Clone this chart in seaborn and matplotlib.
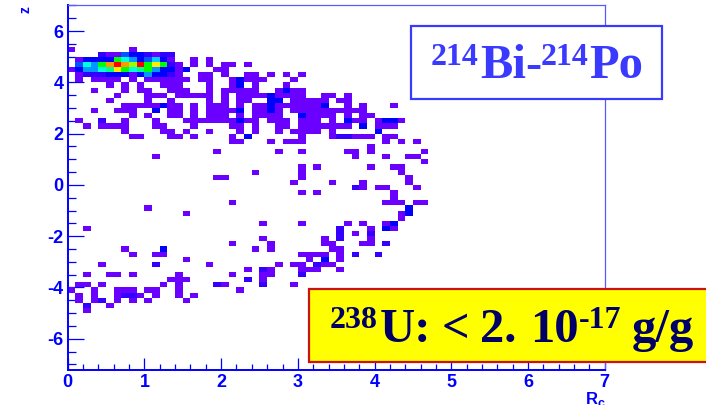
import matplotlib
matplotlib.use("Agg")
import matplotlib.pyplot as plt
from matplotlib.colors import ListedColormap
from matplotlib.patches import Rectangle
from matplotlib.ticker import MultipleLocator
import numpy as np
import pandas as pd
import seaborn as sns

# Occupied R bins (0.1 wide) for each z row (0.2 wide), top row first
first_row_top = 5.4
row_columns = [
    [0, 8],
    [4, 5, 6, 7, 8, 9, 10, 11, 12, 13],
    [1, 2, 3, 4, 5, 6, 7, 8, 9, 10, 11, 12, 13, 16, 18],
    [1, 2, 3, 4, 5, 6, 7, 8, 9, 10, 11, 12, 13, 14, 16, 18, 20, 21, 23],
    [0, 1, 2, 3, 4, 5, 6, 7, 8, 9, 10, 11, 12, 13, 14, 15, 19, 20],
    [1, 2, 3, 4, 5, 6, 7, 8, 9, 10, 11, 12, 13, 14, 17, 18, 20, 23, 24, 26, 28, 30],
    [1, 3, 4, 5, 6, 8, 10, 11, 12, 13, 14, 15, 17, 18, 21, 22, 23, 24, 25, 29],
    [5, 7, 9, 12, 13, 14, 18, 21, 22, 24, 28],
    [3, 7, 9, 10, 13, 14, 15, 18, 20, 21, 22, 23, 24, 27, 28, 29, 30],
    [6, 10, 11, 12, 14, 15, 16, 17, 18, 20, 22, 23, 24, 25, 26, 27, 28, 29, 30, 33, 34, 36],
    [5, 10, 13, 18, 20, 22, 23, 26, 27, 29, 30, 31, 32, 33, 35, 36],
    [7, 8, 9, 10, 11, 12, 13, 14, 16, 18, 19, 20, 22, 24, 25, 26, 27, 28, 29, 30, 31, 32, 33, 36, 38, 42],
    [3, 6, 7, 8, 11, 13, 14, 16, 18, 19, 20, 21, 22, 24, 25, 26, 27, 29, 30, 31, 32, 33, 34, 35, 36, 37, 38],
    [8, 10, 13, 14, 16, 18, 19, 20, 22, 24, 25, 26, 27, 30, 31, 32, 33, 34, 36, 38, 39],
    [1, 4, 7, 11, 15, 16, 17, 18, 19, 20, 21, 22, 23, 24, 26, 27, 28, 30, 31, 32, 34, 36, 37, 38, 40, 41, 42, 43],
    [2, 4, 5, 6, 7, 11, 12, 16, 21, 22, 24, 27, 28, 30, 31, 32, 33, 34, 35, 36, 38, 40, 41, 42],
    [7, 12, 13, 15, 18, 22, 24, 27, 29, 30, 31, 32, 34, 40],
    [8, 9, 13, 14, 16, 21, 23, 30, 34, 35, 36, 37, 38, 39, 41, 42],
    [21, 22, 26, 28, 29, 30, 41, 43, 45],
    [39],
    [19, 27, 30, 36, 37, 39, 46],
    [11, 37, 41, 44, 45],
    [46],
    [30, 32, 39, 42, 43],
    [24, 30, 43],
    [19, 20, 30, 44],
    [29, 34, 38, 44],
    [37, 38, 40, 41, 45],
    [30, 32, 42],
    [42],
    [21, 41, 42, 43, 45, 46],
    [10, 44],
    [15, 43, 44],
    [43],
    [25, 30, 36, 38, 41, 42],
    [2, 35, 39, 41, 42],
    [35, 37, 39],
    [25, 33, 35, 39],
    [21, 26, 33, 34, 38, 39, 41],
    [7, 12, 24, 26, 34, 35],
    [8, 11, 12, 30, 31, 32, 33, 35, 37, 40],
    [15, 31, 33, 35],
    [4, 11, 18, 27, 29, 30, 32, 33, 34],
    [23, 25, 26, 30, 31, 32, 35],
    [2, 5, 6, 8, 14, 21, 25, 26, 30],
    [13, 14, 15, 23, 25],
    [1, 2, 4, 12, 14, 19, 20, 29],
    [0, 3, 6, 7, 8, 10, 11, 14, 22],
    [1, 3, 6, 7, 8, 9, 11, 14, 16],
    [1, 3, 4, 6, 8, 10, 15],
    [2, 5],
    [2],
]

# Hot core counts, one list per row, R bins given by the core_*_start values
core_a_row, core_a_start = 1, 4
core_a = [2, 1, 1, 4, 3, 3, 2, 1, 2, 2]
core_b_row, core_b_start = 2, 1
core_b = [1, 3, 3, 3, 3, 9, 7, 5, 3, 4, 6, 3, 1]
core_c_row, core_c_start = 3, 1
core_c = [4, 7, 5, 9, 12, 13, 12, 10, 13, 9, 11, 9, 2, 1]
core_d_row, core_d_start = 4, 1
core_d = [3, 5, 5, 7, 8, 11, 9, 7, 8, 9, 5, 3, 3, 1, 3]
core_e_row, core_e_start = 5, 1
core_e = [1, 2, 2, 2, 3, 3, 3, 1, 3, 5, 3, 3, 2, 1]

# Scattered bluer cells: row index, R bin, count
blue_row = [6, 7, 8, 9, 10, 10, 11, 11, 11, 12, 12, 12, 13, 14, 14, 14, 14, 14, 15, 16, 17, 17, 17, 27, 31, 32,
            34, 35, 35, 36, 36, 37, 38, 39, 40, 40, 41, 42, 42, 43, 44, 45, 46, 46, 48, 48, 49, 50]
blue_col = [22, 22, 28, 26, 26, 27, 26, 33, 12, 22, 26, 11, 30, 22, 36, 41, 42, 4, 38, 40, 23, 35, 36, 37, 44, 44,
            42, 35, 41, 35, 39, 35, 41, 12, 37, 40, 33, 11, 32, 25, 30, 23, 19, 25, 7, 8, 4, 2]
blue_count = [3, 3, 3, 3, 3, 3, 3, 3, 3, 3, 3, 3, 3, 3, 3, 3, 3, 2, 3, 3, 3, 2, 2, 2, 3, 3,
              3, 2, 3, 2, 2, 2, 2, 3, 2, 2, 3, 2, 2, 2, 2, 2, 2, 2, 2, 2, 2, 2]

tick_labels_z = [-6, -4, -2, 0, 2, 4, 6]
tick_labels_r = [0, 1, 2, 3, 4, 5, 6, 7]

AXIS_BLUE = "#0000ff"
FRAME_BLUE = "#5a5aff"
TITLE_BLUE = "#3a3aff"
NAVY = "#000066"

# ROOT style rainbow palette, one colour per count
palette = ListedColormap([
    "#6a00ff", "#3300ff", "#0000ff", "#0055ff", "#0099ff", "#00ccff", "#00ffdd",
    "#00ff88", "#00ff00", "#99ff00", "#ffee00", "#ff9900", "#ff0000",
])

# Build the weighted table of filled cells
counts = {}
for i, cols in enumerate(row_columns):
    for c in cols:
        counts[(i, c)] = 1
for row, start, values in [
    (core_a_row, core_a_start, core_a),
    (core_b_row, core_b_start, core_b),
    (core_c_row, core_c_start, core_c),
    (core_d_row, core_d_start, core_d),
    (core_e_row, core_e_start, core_e),
]:
    for k, w in enumerate(values):
        counts[(row, start + k)] = w
for i, c, w in zip(blue_row, blue_col, blue_count):
    counts[(i, c)] = w

df = pd.DataFrame(
    [
        {"r": (c + 0.5) * 0.1, "z": first_row_top - (i + 0.5) * 0.2, "w": w}
        for (i, c), w in counts.items()
    ]
)

sns.set_style("white")
plt.rcParams["font.family"] = ["Liberation Sans", "DejaVu Sans"]
plt.rcParams["axes.unicode_minus"] = False

W, H = 706, 405
fig = plt.figure(figsize=(W / 100, H / 100), dpi=100)
ax = fig.add_axes([67.7 / W, 1 - 369.5 / H, (604.7 - 67.7) / W, (369.5 - 5.5) / H])

r_edges = np.linspace(0, 7, 71)
z_edges = np.linspace(-7.2, 7.0, 72)
sns.histplot(
    data=df, x="r", y="z", weights="w", bins=(r_edges, z_edges), ax=ax,
    cmap=palette, vmin=0.5, vmax=13.5, cbar=False,
)

ax.set_xlim(0, 7)
ax.set_ylim(-7.2, 7)
ax.set_xlabel("")
ax.set_ylabel("")
ax.set_xticks(tick_labels_r)
ax.set_yticks(tick_labels_z)
ax.xaxis.set_minor_locator(MultipleLocator(0.2))
ax.yaxis.set_minor_locator(MultipleLocator(0.5))
ax.tick_params(axis="x", which="major", direction="in", bottom=True, length=8.6, width=0.9,
               color=AXIS_BLUE, labelcolor=AXIS_BLUE, labelsize=13, pad=3)
ax.tick_params(axis="x", which="minor", direction="in", bottom=True, length=4.3, width=0.9, color=AXIS_BLUE)
ax.tick_params(axis="y", which="major", direction="in", left=True, length=11.5, width=0.9,
               color=AXIS_BLUE, labelcolor=AXIS_BLUE, labelsize=13, pad=3)
ax.tick_params(axis="y", which="minor", direction="in", left=True, length=5.8, width=0.9, color=AXIS_BLUE)
for label in ax.get_xticklabels() + ax.get_yticklabels():
    label.set_fontweight("bold")

for side, spine in ax.spines.items():
    spine.set_visible(True)
    spine.set_color(AXIS_BLUE if side in ("left", "bottom") else FRAME_BLUE)
    spine.set_linewidth(1.4 if side in ("left", "bottom") else 0.9)


def put_text(x, y, s, size, color, family="Liberation Serif", **kw):
    # x, y in reference pixels, y is the baseline
    fig.text(x / W, 1 - y / H, s, fontsize=size, color=color, family=family,
             fontweight="bold", va="baseline", ha="left", **kw)


def put_box(x0, y0, x1, y1, face, edge, lw):
    fig.add_artist(Rectangle((x0 / W, 1 - y1 / H), (x1 - x0) / W, (y1 - y0) / H, transform=fig.transFigure,
                             facecolor=face, edgecolor=edge, linewidth=lw, zorder=2))


# Axis titles sit at the far ends of the axes
put_text(30, 13, "z", 10, AXIS_BLUE, family="Liberation Sans", rotation=90, rotation_mode="anchor")
put_text(586, 404, "R", 12, AXIS_BLUE, family="Liberation Sans")
put_text(598, 407, "c", 9, AXIS_BLUE, family="Liberation Sans")

# Isotope label
put_box(411, 26, 662, 99, "white", TITLE_BLUE, 1.6)
put_text(431, 65, "214", 23, TITLE_BLUE)
put_text(480, 77.7, "Bi-", 35, TITLE_BLUE)
put_text(540.7, 65, "214", 23, TITLE_BLUE)
put_text(589, 77.7, "Po", 35, TITLE_BLUE)

# Limit label
put_box(309, 289, 720, 362.3, "#ffff00", "#cc1111", 1.6)
put_text(330, 328, "238", 23, NAVY)
put_text(380, 342.3, "U:", 35, NAVY)
put_text(441.7, 342.3, "<", 35, NAVY)
put_text(480, 342.3, "2.", 35, NAVY)
put_text(530, 342.3, "10", 35, NAVY)
put_text(579, 328, "-17", 23, NAVY)
put_text(631.7, 342.3, "g/g", 35, NAVY)

fig.savefig("out.png", dpi=100)
